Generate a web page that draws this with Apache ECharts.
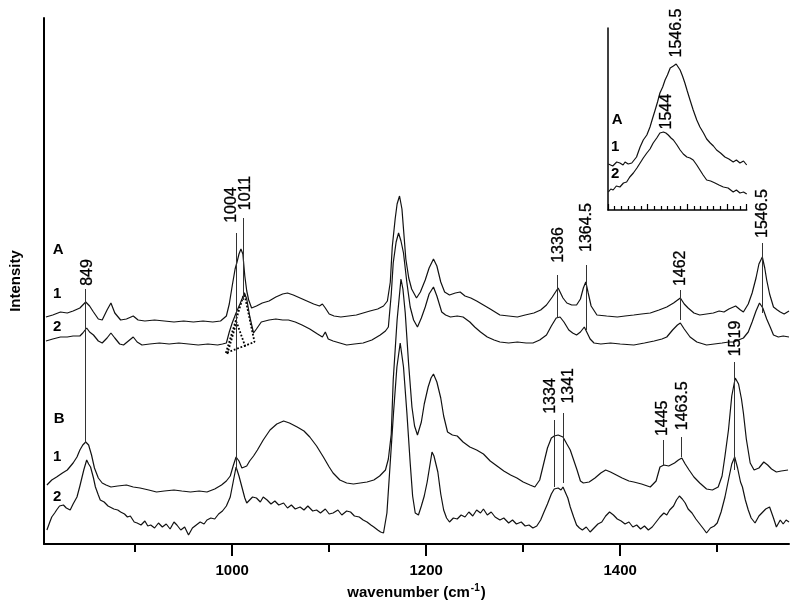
<!DOCTYPE html>
<html><head><meta charset="utf-8">
<script src="https://cdn.jsdelivr.net/npm/echarts@6/dist/echarts.min.js"></script>
<style>html,body{margin:0;padding:0;background:#fff}#c{width:800px;height:609px}</style>
</head><body><div id="c"></div>
<script>
// ---------- data (wavenumber, relative intensity) ----------
const specA1 = [[808,227],[815,229],[823,232],[830,231],[836,233],[843,236],[849,242],[853,238],[857,232],[862,225],[866,224],[871,234],[875,241],[879,231],[885,224],[891,225],[898,228],[903,224],[910,223],[920,224],[930,223],[940,222],[950,223],[960,222],[970,223],[980,222],[988,223],[994,228],[997,240],[1000,258],[1003,275],[1005,282],[1007,290],[1009,295],[1011,290],[1013,268],[1015,253],[1017,244],[1020,236],[1025,238],[1031,241],[1038,243],[1045,247],[1052,250],[1057,251],[1063,249],[1070,246],[1077,243],[1084,240],[1090,238],[1093,240],[1096,236],[1100,230],[1105,228],[1112,227],[1120,228],[1128,229],[1135,231],[1142,233],[1150,235],[1156,238],[1160,243],[1163,262],[1165,297],[1168,325],[1170,340],[1172.5,348],[1175,335],[1177,310],[1179,285],[1182,266],[1185,255],[1190,246],[1194,252],[1199,264],[1203,276],[1207.5,285],[1211,278],[1215,262],[1219,252],[1224,249],[1230,251],[1235,252],[1240,248],[1246,246],[1252,243],[1259,239],[1266,235],[1276,229],[1285,228],[1294,227],[1302,229],[1311,231],[1318,234],[1324,239],[1330,247],[1336,256],[1341,246],[1345,241],[1350,239],[1355,239],[1359,245],[1362,256],[1364.5,262],[1367,251],[1370,238],[1376,229],[1386,228],[1397,227],[1405,228],[1414,229],[1422,230],[1431,231],[1440,234],[1448,237],[1455,241],[1462,246],[1466,240],[1470,236],[1476,231],[1482,229],[1489,230],[1496,231],[1502,233],[1507,232],[1512,235],[1519,238],[1524,234],[1527,232],[1532,240],[1536,251],[1540,266],[1543,280],[1546.5,287],[1549,276],[1551,264],[1554,250],[1558,237],[1562,234],[1565,232],[1569,230],[1574,233]];

const specA2 = [[808,203],[815,205],[823,207],[830,207],[836,208],[843,208],[846,211],[850,216],[853,212],[857,209],[862,203],[866,201],[871,206],[875,211],[879,206],[884,200],[888,199],[893,203],[898,207],[902,202],[907,199],[915,200],[925,201],[935,200],[945,201],[955,200],[965,199],[975,200],[985,199],[990,200],[994,201],[997,212],[1000,221],[1004,231],[1008,240],[1012.7,251],[1015,245],[1018,228],[1022,211],[1025,215],[1030,222],[1038,224],[1045,225],[1052,224],[1058,224],[1065,222],[1072,219],[1080,215],[1088,210],[1093,207],[1096,212],[1099,205],[1104,203],[1111,201],[1118,199],[1126,200],[1135,201],[1144,204],[1152.6,209],[1158,213],[1161,217],[1164,250],[1166,281],[1169,302],[1171.5,311],[1174,303],[1176.6,291],[1180,262],[1183.5,237],[1187,224],[1191,217],[1195,226],[1199,237],[1203,250],[1207.5,257],[1211,248],[1216,232],[1220,229],[1225,227],[1232,228],[1238,227],[1245,222],[1250,217],[1256,212],[1263,207],[1270,204],[1276,202],[1285,201],[1294,202],[1303,201],[1310,201],[1317,204],[1324,209],[1329,218],[1334,226],[1338,227],[1342,222],[1347,214],[1351,211],[1355,209],[1359,212],[1363,217],[1365,215],[1369,205],[1373,201],[1380,200],[1390,201],[1400,200],[1414,199],[1425,201],[1435,203],[1443,205],[1448,207],[1454,214],[1459,219],[1462,221],[1466,215],[1472,207],[1479,202],[1489,199],[1497,200],[1505,201],[1512,202],[1517,202],[1522,204],[1527,206],[1532,212],[1536,222],[1540,233],[1543.6,241],[1547,236],[1551,225],[1554.6,217],[1558,209],[1563,207],[1568,208],[1574,207]];

const specB1 = [[809,59],[814,64],[819,67],[825,71],[830,74],[836,81],[840,87],[843,94],[846,99],[849,102],[852,99],[855,89],[858,76],[862,66],[866,61],[870,59],[875,57],[882,58],[891,59],[898,57],[905,56],[914,54],[922,52],[930,53],[940,54],[948,53],[957,52],[966,53],[974,52],[982,55],[989,59],[994,63],[998,68],[1001,78],[1004,87],[1007,83],[1010,76],[1012,74],[1015,78],[1018,83],[1022,88],[1026,94],[1032,104],[1039,114],[1046,120],[1053,123],[1059,121],[1067,117],[1074,113],[1080,107],[1087,98],[1094,87],[1100,77],[1104,71],[1111,64],[1118,61],[1125,60],[1132,61],[1139,62],[1146,64],[1152,68],[1158,74],[1161,85],[1164,110],[1166,164],[1170,224],[1174,265],[1176,255],[1178.4,231],[1181.8,181],[1185.3,137],[1188,118],[1191,109],[1195,122],[1198,140],[1202,157],[1205,166],[1207.5,170],[1211,162],[1215,146],[1218,128],[1222,112],[1227,109],[1232,108],[1238,102],[1245,97],[1252,94],[1259,90],[1266,83],[1273,78],[1280,73],[1287,69],[1293.5,66],[1300,62],[1307,59],[1312,57],[1317,64],[1321,80],[1325,96],[1329,106],[1332,108],[1336,109],[1341,107],[1345,100],[1348.5,94],[1352,84],[1355.5,74],[1359,63],[1362,61],[1368,62],[1374,66],[1380,71],[1385,74],[1390,72],[1396,69],[1402,66],[1409,63],[1414,62],[1422,60],[1431,57],[1437,63],[1441,77],[1445,79],[1450,78],[1456,81],[1460,84],[1463.5,86],[1467,80],[1471,74],[1476,67],[1482,61],[1489,55],[1495,54],[1501,57],[1505,68],[1508,88],[1511.6,114],[1515,148],[1518.6,166],[1522,160],[1525,145],[1527,131],[1530,105],[1534,81],[1538,74],[1543,76],[1548,82],[1552,79],[1556,75],[1561,72],[1566,73],[1573,74]];

const specB2 = [[809,14],[812,22],[814,27],[817,31],[819,34],[822,38],[826,39],[829,36],[833,34],[836,40],[840,47],[843,58],[847,74],[850,84],[852,80],[854,77],[857,66],[859,57],[862,49],[864,44],[868,42],[872,38],[874,39],[878,35],[882,34],[885,32],[889,30],[892,27],[895,28],[899,22],[902,21],[906,19],[910,23],[913,18],[916,19],[920,16],[924,21],[928,17],[932,20],[936,15],[940,22],[943,19],[947,14],[951,17],[955,9],[959,16],[963,19],[967,22],[971,20],[974,24],[978,26],[982,25],[986,30],[990,33],[994,38],[998,47],[1001,62],[1004,77],[1007,68],[1010,57],[1013,46],[1015,41],[1018,44],[1021,47],[1025,46],[1029,42],[1032,47],[1036,44],[1040,40],[1044,43],[1048,39],[1053,41],[1057,36],[1061,39],[1065,35],[1070,37],[1074,34],[1078,38],[1083,33],[1087,34],[1091,31],[1096,35],[1100,30],[1104,31],[1109,34],[1113,29],[1118,33],[1122,32],[1126,28],[1131,27],[1135,24],[1139,22],[1143,19],[1146,17],[1150,14],[1153,12],[1156,11],[1159.5,31],[1162.9,81],[1166.3,131],[1169.8,177],[1173.2,201],[1176.6,177],[1180.1,131],[1183.5,81],[1186,48],[1188.7,31],[1192,29],[1195,38],[1198,48],[1201,62],[1204,80],[1206,92],[1208,88],[1210,89],[1212,72],[1215,50],[1218,34],[1221,26],[1224,22],[1228,26],[1232,25],[1236,29],[1240,27],[1244,32],[1248,28],[1252,34],[1256,31],[1259,35],[1263,29],[1267,32],[1271,27],[1276,24],[1280,26],[1285,21],[1289,24],[1293,20],[1298,22],[1302,18],[1306,19],[1310,16],[1314,18],[1318,24],[1321,31],[1325,40],[1329,50],[1332,55],[1334,53],[1336,56],[1339,54],[1341,57],[1343,55],[1346,46],[1348.5,37],[1352,27],[1355,19],[1358,16],[1361,14],[1365,17],[1369,12],[1373,16],[1377,20],[1381,22],[1385,28],[1389,32],[1393,29],[1397,25],[1401,23],[1405,20],[1409,22],[1413,17],[1417,19],[1421,15],[1425,18],[1429,14],[1433,17],[1437,22],[1441,27],[1445,31],[1448,29],[1451,34],[1455,38],[1458,44],[1461,48],[1464,45],[1467,41],[1470,35],[1474,31],[1478,25],[1482,20],[1486,15],[1489,11],[1493,16],[1497,18],[1500,21],[1504,32],[1508,47],[1512,66],[1515,80],[1518,87],[1521,76],[1524,62],[1526,57],[1529,44],[1532,34],[1535,26],[1539,21],[1543,28],[1547,32],[1550,35],[1554,37],[1558,26],[1561,17],[1565,24],[1568,20],[1571,24],[1574,22]];

// dotted band components under A2
const bandBig = [[993.5,191],[1012.4,251],[1023,202],[993.5,191]];
const bandSmall = [[995,190],[1004.5,222],[1014,196]];

// inset (A, 1546.5 region)
const insetA1 = [[1530.1,46],[1531.2,44],[1532.2,48],[1533.0,47],[1533.8,45],[1534.3,48],[1535.1,46],[1536.0,47],[1536.6,50],[1537.2,53],[1538.1,63],[1538.9,70],[1539.8,75],[1540.6,83],[1541.2,91],[1541.9,100],[1542.5,108],[1543.1,117],[1543.8,123],[1544.4,130],[1545.0,135],[1545.7,142],[1546.5,144],[1547.2,146],[1547.7,144],[1548.2,140],[1548.8,134],[1549.4,127],[1550.0,119],[1550.7,110],[1551.5,100],[1552.4,90],[1553.2,83],[1554.1,77],[1554.9,71],[1555.8,67],[1556.6,64],[1557.4,60],[1558.4,57],[1559.5,53],[1560.5,51],[1561.6,48],[1562.4,50],[1563.3,47],[1564.2,49],[1565,45]];
const insetA2 = [[1530.1,18],[1530.7,21],[1531.3,20],[1532.1,24],[1533.0,23],[1533.9,27],[1534.7,28],[1535.5,33],[1536.4,37],[1537.3,42],[1538.1,47],[1538.9,52],[1539.8,57],[1540.6,61],[1541.4,67],[1542.3,72],[1543.1,77],[1544.0,78],[1544.6,77],[1545.2,75],[1545.9,72],[1546.5,70],[1547.4,65],[1548.2,60],[1549.0,56],[1549.9,53],[1550.7,52],[1551.5,50],[1552.4,45],[1553.2,40],[1554.0,35],[1554.9,30],[1555.9,29],[1557.0,27],[1558.0,25],[1559.1,23],[1560.3,22],[1561.6,18],[1562.4,20],[1563.3,17],[1564.2,18],[1565,16]];

// peak annotations
const peakNames     = ['849','1004','1011','1336','1364.5','1462','1546.5','1334','1341','1445','1463.5','1519'];
const peakLineX     = [849, 1004, 1011, 1335.6, 1364.5, 1462, 1546.5, 1332.3, 1341, 1444.6, 1462.9, 1517.8];
const peakLineTop   = [255, 311, 326, 269, 279, 254, 301, 124, 131, 104, 107, 182];
const peakLineBot   = [101, 74, 244, 227, 214, 224, 231, 57, 61, 79, 87, 74];
const peakTextX     = [851, 999, 1013.4, 1336, 1365.6, 1462.5, 1547, 1327.8, 1346.7, 1444, 1464.6, 1518.6];
const peakTextY     = [271.5, 339, 351, 299, 316.5, 275.7, 330.5, 148, 158.2, 125.7, 138.2, 205.5];

const insetPeakNames = ['1546.5','1544'];
const insetPeakX = [1547.4, 1544.8];
const insetPeakY = [177, 98.3];

const letterNames = ['A','1','2','B','1','2'];
const letterX = [820.6, 819.6, 819.6, 821.6, 819.6, 819.6];
const letterY = [294, 250, 217, 125, 87, 47];
const insetLetterNames = ['A','1','2'];
const insetLetterX = [1532.3, 1531.8, 1531.8];
const insetLetterY = [90, 63, 36];

const xMajorTicks = [1000, 1200, 1400];
const xMinorTicks = [900, 1100, 1300, 1500];

// ---------- chart ----------
const FONT = '"Liberation Sans", Arial, sans-serif';
const INK = '#000';
const chart = echarts.init(document.getElementById('c'), null, {renderer: 'canvas'});

function spec(data, xi, yi) {
  return {type: 'line', xAxisIndex: xi, yAxisIndex: yi, data: data, showSymbol: false, symbol: 'none',
    lineStyle: {color: '#111', width: 1.2}, silent: true, z: 3};
}
function textSeries(names, xs, ys, xi, yi, opts) {
  return {type: 'scatter', xAxisIndex: xi, yAxisIndex: yi, symbolSize: 1, silent: true, z: 5,
    itemStyle: {color: 'rgba(0,0,0,0)'},
    data: names.map((n, i) => ({value: [xs[i], ys[i]], name: n})),
    label: Object.assign({show: true, position: 'inside', formatter: p => p.name, color: INK, fontFamily: FONT, opacity: 1}, opts)};
}

const peakLabelSeries = textSeries(peakNames, peakTextX, peakTextY, 0, 0, {fontSize: 16, rotate: 90, textBorderColor: '#000', textBorderWidth: 0.3});
peakLabelSeries.markLine = {
  silent: true, symbol: ['none', 'none'], animation: false,
  lineStyle: {color: '#333', width: 1, type: 'solid'}, label: {show: false},
  data: peakLineX.map((x, i) => [{coord: [x, peakLineTop[i]]}, {coord: [x, peakLineBot[i]]}])
};

const option = {
  animation: false,
  backgroundColor: '#fff',
  grid: [
    {left: 44, top: 18, right: 11, bottom: 65},
    {left: 608, top: 28, width: 138.7, height: 182}
  ],
  xAxis: [
    {gridIndex: 0, type: 'value', min: 806, max: 1574,
     axisLine: {show: true, lineStyle: {color: INK, width: 2}},
     axisTick: {show: true, length: 12, customValues: xMajorTicks, lineStyle: {color: INK, width: 2}},
     axisLabel: {show: true, customValues: xMajorTicks, formatter: v => String(v), margin: 19, color: INK, fontSize: 15, fontWeight: 'bold', fontFamily: FONT},
     splitLine: {show: false},
     name: '{a|wavenumber (cm}{s|-1}{a|)}', nameLocation: 'middle', nameGap: 39,
     nameTextStyle: {rich: {
       a: {fontSize: 15, fontWeight: 'bold', fontFamily: FONT, color: INK, lineHeight: 20},
       s: {fontSize: 10, fontWeight: 'bold', fontFamily: FONT, color: INK, lineHeight: 20, verticalAlign: 'top', padding: [0, 1, 0, 1]}
     }}},
    {gridIndex: 0, type: 'value', min: 806, max: 1574, position: 'bottom',
     axisLine: {show: false},
     axisTick: {show: true, length: 8, customValues: xMinorTicks, lineStyle: {color: INK, width: 2}},
     axisLabel: {show: false}, splitLine: {show: false}},
    {gridIndex: 1, type: 'value', min: 1530, max: 1565, interval: 10,
     axisLine: {show: true, lineStyle: {color: INK, width: 1.5}},
     axisTick: {show: true, inside: true, length: 6, lineStyle: {color: INK, width: 1.2}},
     minorTick: {show: true, splitNumber: 6, length: 4, lineStyle: {color: INK, width: 1.2}},
     axisLabel: {show: false}, splitLine: {show: false}, minorSplitLine: {show: false}}
  ],
  yAxis: [
    {gridIndex: 0, type: 'value', min: 0, max: 526,
     axisLine: {show: true, lineStyle: {color: INK, width: 2}},
     axisTick: {show: false}, axisLabel: {show: false}, splitLine: {show: false},
     name: 'Intensity', nameLocation: 'middle', nameGap: 21,
     nameTextStyle: {fontSize: 15, fontWeight: 'bold', fontFamily: FONT, color: INK}},
    {gridIndex: 1, type: 'value', min: 0, max: 182,
     axisLine: {show: true, lineStyle: {color: INK, width: 1.5}},
     axisTick: {show: false}, axisLabel: {show: false}, splitLine: {show: false}}
  ],
  series: [
    spec(specA1, 0, 0),
    spec(specA2, 0, 0),
    spec(specB1, 0, 0),
    spec(specB2, 0, 0),
    {type: 'line', xAxisIndex: 0, yAxisIndex: 0, data: bandBig, showSymbol: false, symbol: 'none', silent: true,
     lineStyle: {color: INK, width: 1.8, type: 'dotted'}, z: 2},
    {type: 'line', xAxisIndex: 0, yAxisIndex: 0, data: bandSmall, showSymbol: false, symbol: 'none', silent: true,
     lineStyle: {color: INK, width: 1.8, type: 'dotted'}, z: 2},
    spec(insetA1, 2, 1),
    spec(insetA2, 2, 1),
    peakLabelSeries,
    textSeries(insetPeakNames, insetPeakX, insetPeakY, 2, 1, {fontSize: 16, rotate: 90, textBorderColor: '#000', textBorderWidth: 0.3}),
    textSeries(letterNames, letterX, letterY, 0, 0, {fontSize: 15, fontWeight: 'bold'}),
    textSeries(insetLetterNames, insetLetterX, insetLetterY, 2, 1, {fontSize: 15, fontWeight: 'bold'})
  ]
};
chart.setOption(option);
</script></body></html>
